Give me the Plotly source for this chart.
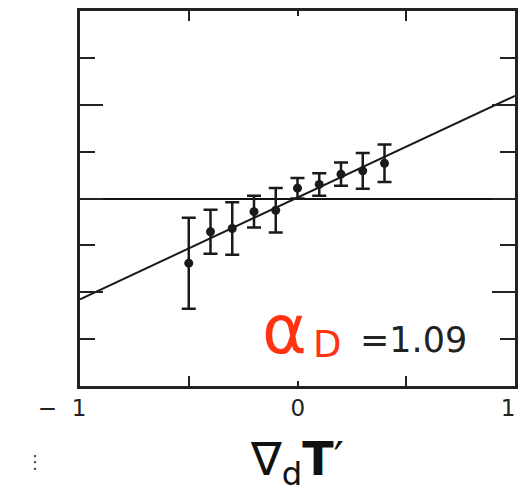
import plotly.graph_objects as go

# data
grad_x = [-0.5, -0.4, -0.3, -0.2, -0.1, 0.0, 0.1, 0.2, 0.3, 0.4]
resp_y = [-1.38, -0.71, -0.64, -0.28, -0.25, 0.22, 0.30, 0.52, 0.59, 0.75]
resp_err = [0.97, 0.47, 0.56, 0.34, 0.475, 0.22, 0.24, 0.25, 0.38, 0.40]
fit_x = [-1.0, 1.0]
fit_y = [-2.15, 2.19]
xtick_vals = [-1, 0, 1]
xtick_text = ["\u2212\u00a0\u00a01\u00a0\u00a0\u00a0", "\u00a0\u00a00", "1"]
alpha_label = "1.09"

INK = "#222222"
RED = "#ff3311"
FONT = "DejaVu Sans"

fig = go.Figure()
fig.add_trace(go.Scatter(
    x=fit_x, y=fit_y, mode="lines",
    line=dict(color="#1a1a1a", width=2), hoverinfo="skip", showlegend=False))
fig.add_trace(go.Scatter(
    x=grad_x, y=resp_y, mode="markers",
    marker=dict(color="#1a1a1a", size=9),
    error_y=dict(type="data", array=resp_err, visible=True,
                 color="#1a1a1a", thickness=2.5, width=7),
    showlegend=False))

fig.add_annotation(xref="paper", yref="paper", x=(284 - 80) / 435, y=(386 - 329) / 375,
                   text="α", showarrow=False, xanchor="center", yanchor="middle",
                   font=dict(family=FONT, size=68, color=RED))
fig.add_annotation(xref="paper", yref="paper", x=(327 - 80) / 435, y=(386 - 344) / 375,
                   text="D", showarrow=False, xanchor="center", yanchor="middle",
                   font=dict(family=FONT, size=37, color=RED))
fig.add_annotation(xref="paper", yref="paper", x=(413 - 80) / 435, y=(386 - 340) / 375,
                   text="=" + alpha_label, showarrow=False, xanchor="center", yanchor="middle",
                   font=dict(family=FONT, size=35, color=INK))
fig.add_annotation(xref="paper", yref="paper", x=(35 - 80) / 435, y=(386 - 461) / 375,
                   text="⋮", showarrow=False, xanchor="center", yanchor="middle",
                   font=dict(family=FONT, size=18, color="#444444"))

fig.update_xaxes(
    range=[-1, 1], tickvals=xtick_vals, ticktext=xtick_text,
    ticks="inside", ticklen=5, tickwidth=2, tickcolor=INK,
    minor=dict(tickvals=[-0.5, 0.5], ticks="inside", ticklen=10, tickwidth=2, tickcolor=INK),
    showline=True, linewidth=2.5, linecolor=INK, mirror="ticks",
    showgrid=False, zeroline=False, automargin=False, ticklabelshift=-7,
    tickfont=dict(family=FONT, size=23, color=INK),
    title=dict(text="∇<sub>d</sub><b>T</b>′\u00a0\u00a0", font=dict(family=FONT, size=46, color="#111111"), standoff=34),
)
fig.update_yaxes(
    range=[-4, 4], tickvals=[-4, -2, 0, 2, 4],
    ticks="inside", ticklen=23, tickwidth=2, tickcolor=INK,
    minor=dict(tickvals=[-3, -1, 1, 3], ticks="inside", ticklen=15, tickwidth=2, tickcolor=INK),
    showticklabels=False, automargin=False,
    showline=True, linewidth=2.5, linecolor=INK, mirror="ticks",
    showgrid=False, zeroline=True, zerolinecolor="#111111", zerolinewidth=1.5,
)
fig.update_layout(
    width=520, height=493,
    margin=dict(l=80, r=5, t=11, b=107),
    paper_bgcolor="white", plot_bgcolor="white",
)
fig.write_html("out.html")
